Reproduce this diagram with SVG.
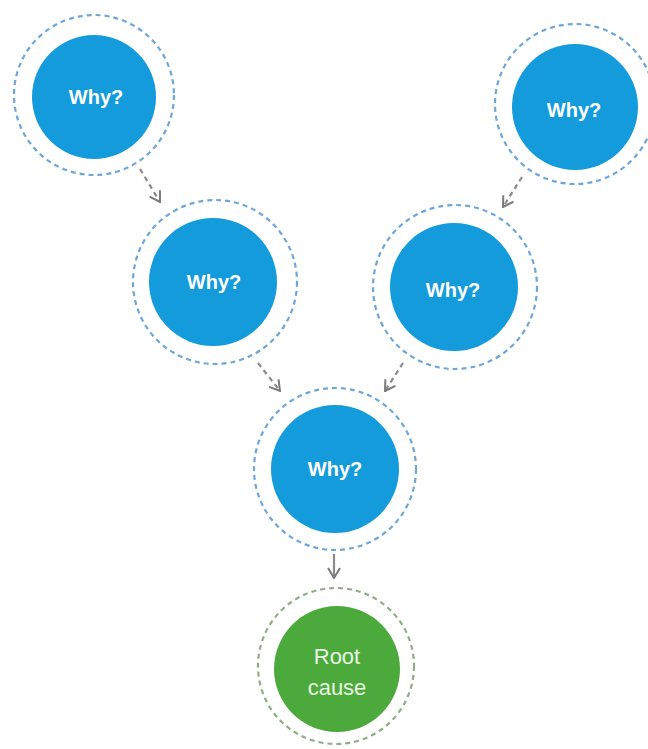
<svg xmlns="http://www.w3.org/2000/svg" width="648" height="749" viewBox="0 0 648 749">
<style>
.bg{fill:#ffffff}
.ring{fill:none;stroke:#6fa6d8;stroke-width:2.2;stroke-dasharray:5 4}
.ring-g{fill:none;stroke:#8fae84;stroke-width:2.2;stroke-dasharray:5 4}
.why{fill:#149bdb}
.root{fill:#4caa3c}
.lbl{fill:#ffffff;font-family:"Liberation Sans",Arial,sans-serif;font-size:20px;font-weight:bold;text-anchor:middle}
.lbl2{fill:#e8f5e4;font-family:"Liberation Sans",Arial,sans-serif;font-size:22px;text-anchor:middle}
.conn{fill:none;stroke:#8a8a8a;stroke-width:2.2;stroke-dasharray:5 4}
</style>
<defs>
<marker id="chev" viewBox="0 0 12 14" refX="11" refY="7" markerWidth="12" markerHeight="14" markerUnits="userSpaceOnUse" orient="auto">
<path d="M1,1 L11,7 L1,13" fill="none" stroke="#7a7a7a" stroke-width="2"/>
</marker>
</defs>
<rect class="bg" x="0" y="0" width="648" height="749"/>
<g id="connectors">
<path class="conn" d="M140,169 L160,202" marker-end="url(#chev)"/>
<path class="conn" d="M522,177 L503,207" marker-end="url(#chev)"/>
<path class="conn" d="M258,363 L280,391" marker-end="url(#chev)"/>
<path class="conn" d="M403,363 L385,391" marker-end="url(#chev)"/>
<path class="conn" d="M334,554 L334,578" style="stroke-dasharray:none" marker-end="url(#chev)"/>
</g>
<g id="why1">
<circle class="ring" cx="94" cy="95" r="80"/>
<circle class="why" cx="94" cy="97" r="62"/>
<text class="lbl" x="96" y="104">Why?</text>
</g>
<g id="why2">
<circle class="ring" cx="575" cy="104" r="80"/>
<circle class="why" cx="575" cy="107" r="63"/>
<text class="lbl" x="574" y="117">Why?</text>
</g>
<g id="why3">
<circle class="ring" cx="215" cy="282" r="82"/>
<circle class="why" cx="213" cy="282" r="64"/>
<text class="lbl" x="214" y="289">Why?</text>
</g>
<g id="why4">
<circle class="ring" cx="455" cy="287" r="82"/>
<circle class="why" cx="454" cy="287" r="64"/>
<text class="lbl" x="453" y="297">Why?</text>
</g>
<g id="why5">
<circle class="ring" cx="335" cy="469" r="81"/>
<circle class="why" cx="335" cy="469" r="64"/>
<text class="lbl" x="335" y="476">Why?</text>
</g>
<g id="root">
<circle class="ring-g" cx="336" cy="666" r="78"/>
<circle class="root" cx="337" cy="669" r="63"/>
<text class="lbl2" x="337" y="664">Root</text>
<text class="lbl2" x="337" y="695">cause</text>
</g>
</svg>
